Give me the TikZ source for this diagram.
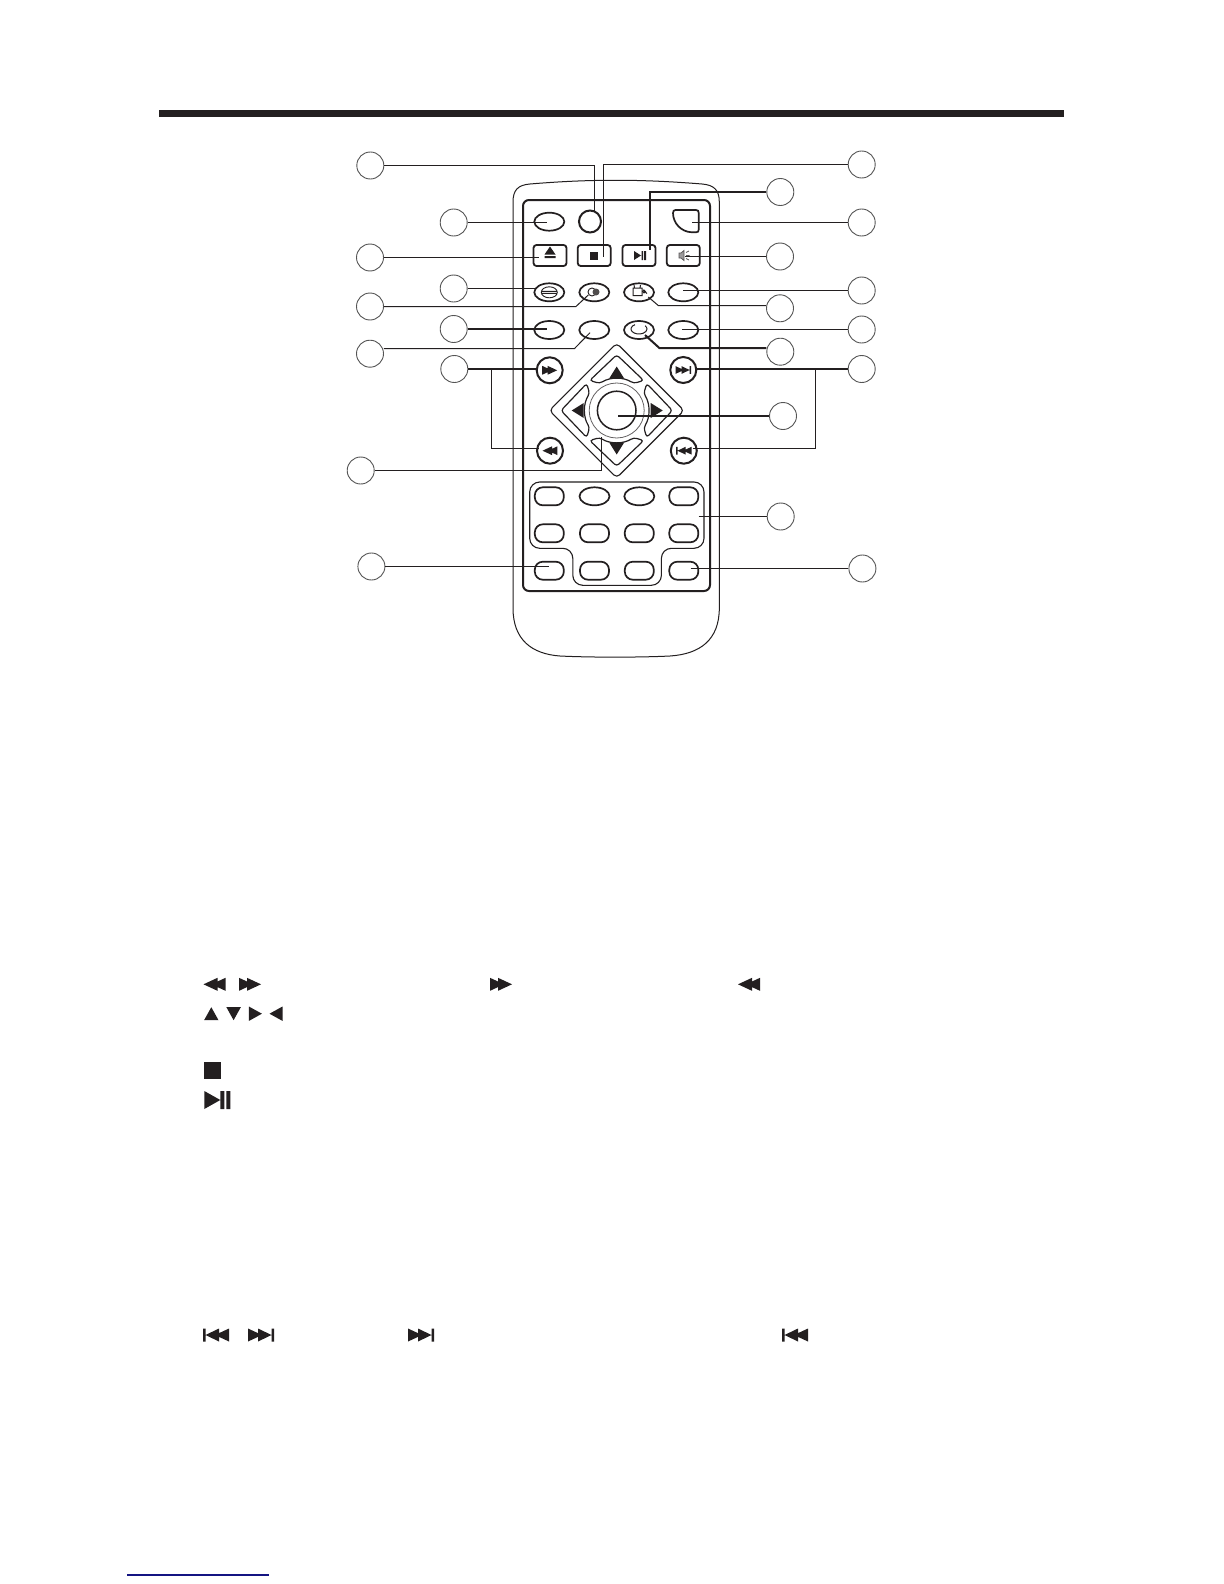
\documentclass[tikz,border=0pt]{standalone}
\usetikzlibrary{shapes.geometric,calc}
\definecolor{ink}{RGB}{35,31,32}
\definecolor{ringgray}{RGB}{85,85,85}
\definecolor{rulenavy}{RGB}{20,20,130}
\tikzset{
  x=0.5pt,y=-0.5pt,
  callout/.style={circle,draw=ringgray,fill=white,line width=0.45pt,minimum size=13.5pt,inner sep=0pt},
  conn/.style={draw=ink,line width=0.5pt},
  connthick/.style={draw=ink,line width=1pt},
  bodyline/.style={draw=ink,line width=0.5pt},
  panelline/.style={draw=ink,line width=1pt},
  padline/.style={draw=ink,line width=0.6pt,rounded corners=1.5pt},
  oval/.style={ellipse,draw=ink,fill=white,line width=0.85pt,minimum width=15pt,minimum height=9pt,inner sep=0pt},
  pill/.style={rectangle,rounded corners=4pt,draw=ink,fill=white,line width=0.85pt,minimum width=14.5pt,minimum height=9pt,inner sep=0pt},
  keybtn/.style={rectangle,rounded corners=1.5pt,draw=ink,fill=white,line width=0.9pt,minimum width=16.5pt,minimum height=10.5pt,inner sep=0pt},
  roundbtn/.style={circle,draw=ink,fill=white,line width=1pt,minimum size=13pt,inner sep=0pt},
  iconff/.pic={\fill[ink] (-11,-6.5)--(3,0)--(-11,6.5)--cycle (-3,-6.5)--(11,0)--(-3,6.5)--cycle;},
  iconnx/.pic={\fill[ink] (-13,-6.5)--(1,0)--(-13,6.5)--cycle (-3,-6.5)--(10.5,0)--(-3,6.5)--cycle (10.5,-6.5) rectangle (13,6.5);},
  icontri/.pic={\fill[ink] (-7.2,6.5)--(0,-6.5)--(7.2,6.5)--cycle;},
  iconpp/.pic={\fill[ink] (-13,-9)--(3,0)--(-13,9)--cycle (3,-9) rectangle (7,9) (9,-9) rectangle (13,9);},
  dpadkey/.pic={\draw[padline,fill=white] (0,-55.7)--(27,-30)--(17,-27.1) arc[start angle=-58,end angle=-122,radius=32]--(-27,-30)--cycle;},
}
\begin{document}
\begin{tikzpicture}
\useasboundingbox (0,0) rectangle (1224,1584);
\fill[white] (0,0) rectangle (1224,1584);
% header bar and footer rule
\fill[ink] (158.5,110) rectangle (1064,117);
\fill[rulenavy] (127,1574.3) rectangle (268.7,1575.8);
% remote body
\draw[bodyline] (513,202) .. controls (513,190) and (518,185) .. (530,184)
  .. controls (590,179) and (640,179) .. (702,184)
  .. controls (714,185) and (719.3,190) .. (719.3,202)
  -- (719.3,608) .. controls (719.3,640) and (700,654) .. (670,656)
  .. controls (640,657.5) and (590,657.5) .. (560,656)
  .. controls (532,654) and (513,640) .. (513,608) -- cycle;
\draw[panelline,rounded corners=3pt] (523,200) rectangle (710,591);
% keypad group outline
\draw[draw=ink,line width=0.55pt,rounded corners=5pt] (529.7,482) -- (704,482) -- (704,548.3) -- (661.4,548.3) -- (661.4,585.3) -- (572.8,585.3) -- (572.8,548.3) -- (529.7,548.3) -- cycle;
% top buttons
\node[oval] (bPower) at (549.3,221.7) {};
\node[roundbtn,minimum size=11pt] (bRound) at (590,221.5) {};
\draw[draw=ink,line width=0.85pt] (675.5,210) -- (696,210) .. controls (698,210) and (698.7,211) .. (698.7,213)
  -- (698.7,229.5) .. controls (698.7,231.5) and (698,232.3) .. (696,232.3) -- (692,232.3)
  .. controls (681,232) and (673,223) .. (673,213) .. controls (673,211) and (674,210) .. (675.5,210) -- cycle;
\node[keybtn] (bEject) at (550,255.5) {};
\node[keybtn] (bStop) at (594.2,255.5) {};
\node[keybtn] (bPlay) at (639,255.5) {};
\node[keybtn] (bMute) at (683.3,255.5) {};
\node[oval] (k31) at (549.3,292.3) {};
\node[oval] (k32) at (594.3,292.3) {};
\node[oval] (k33) at (639,292.3) {};
\node[oval] (k34) at (683.3,292.3) {};
\node[oval] (k41) at (549.3,330) {};
\node[oval] (k42) at (594.3,330) {};
\node[oval] (k43) at (639,330) {};
\node[oval] (k44) at (683.3,330) {};
% key glyphs
\fill[ink] (544.5,254.5) -- (550,246.5) -- (555.5,254.5) -- cycle (544.5,256.2) rectangle (555.5,258.2);
\fill[ink] (590,251.5) rectangle (598,259.5);
\fill[ink] (634,251) -- (641,255.5) -- (634,260) -- cycle (641.5,251) rectangle (643.2,260) (644.2,251) rectangle (646,260);
\draw[ink!75,fill=ink!45,line width=0.4pt] (679,253) -- (681,253) -- (684,250.5) -- (684,260.5) -- (681,258) -- (679,258) -- cycle;
\draw[ink!75,line width=0.4pt] (686,252.5) -- (689,251) (686,255.5) -- (689.5,255.5) (686,258.5) -- (689,260);
\draw[ink,line width=0.45pt] (549.3,292.3) ellipse[x radius=8,y radius=5.5] (541.8,291.3) -- (556.8,291.3) (541.8,293.3) -- (556.8,293.3);
\draw[ink,line width=0.45pt] (592,292) circle[radius=4];
\fill[ink!80] (596,292) circle[radius=3.5];
\draw[ink,line width=0.5pt] (633,288) rectangle (642,295.5) (634.5,288) -- (634,285) (640,288) -- (640.5,285);
\draw[ink,line width=0.5pt] (643,290) -- (647,293.5) (644,291.5) circle[radius=1.5];
\draw[ink,line width=0.5pt] (639,329) ++(-120:8 and 5) arc[start angle=-120,end angle=-400,x radius=8,y radius=5];
% transport keys
\node[roundbtn] (bFF) at (549.7,370.3) {};
\node[roundbtn] (bNext) at (683.3,370) {};
\node[roundbtn] (bRew) at (550,450.7) {};
\node[roundbtn] (bPrev) at (683.8,450.7) {};
\pic[scale=.68] at (bFF) {iconff};
\pic[scale=.68,xscale=-1] at (bRew) {iconff};
\pic[scale=.6] at (bNext) {iconnx};
\pic[scale=.6,xscale=-1] at (bPrev) {iconnx};
% direction pad
\begin{scope}[shift={(616.7,410.5)}]
  \draw[draw=ink,line width=0.55pt,rounded corners=2pt] (0,-67.3) -- (67.3,0) -- (0,67.3) -- (-67.3,0) -- cycle;
  \pic {dpadkey};
  \pic[rotate=90] {dpadkey};
  \pic[rotate=180] {dpadkey};
  \pic[rotate=270] {dpadkey};
  \draw[ink!70,line width=0.4pt] (0,0) circle[radius=27.5];
  \node[circle,draw=ink,fill=white,line width=0.75pt,minimum size=19.3pt,inner sep=0pt] (bOK) at (0,0) {};
  \fill[ink] (-7.5,-32) -- (0,-44) -- (7.5,-32) -- cycle;
  \fill[ink] (-7.5,32) -- (0,44) -- (7.5,32) -- cycle;
  \fill[ink] (-33,-7.5) -- (-45,0) -- (-33,7.5) -- cycle;
  \fill[ink] (34,-7.5) -- (46,0) -- (34,7.5) -- cycle;
\end{scope}
% number keys
\node[pill] (n11) at (549.3,496.3) {};
\node[oval] (n12) at (594.5,496.3) {};
\node[oval] (n13) at (639.3,496.3) {};
\node[pill] (n14) at (683.8,496.3) {};
\node[pill] (n21) at (549.3,533.3) {};
\node[pill] (n22) at (594.5,533.3) {};
\node[pill] (n23) at (639.3,533.3) {};
\node[pill] (n24) at (683.8,533.3) {};
\node[pill] (n31) at (549.3,570.7) {};
\node[pill] (n32) at (594.5,570.7) {};
\node[pill] (n33) at (639.3,570.7) {};
\node[pill] (n34) at (683.8,570.7) {};
% callouts
\node[callout] (c1) at (370.3,165.5) {};
\node[callout] (c2) at (453.7,222.5) {};
\node[callout] (c3) at (370,257.5) {};
\node[callout] (c4) at (453.7,288.5) {};
\node[callout] (c5) at (370,306.5) {};
\node[callout] (c6) at (453.7,329) {};
\node[callout] (c7) at (370,353.7) {};
\node[callout] (c8) at (454.3,369) {};
\node[callout] (c9) at (360.7,470.5) {};
\node[callout] (c10) at (371.4,566.5) {};
\node[callout] (r1) at (861.7,164.5) {};
\node[callout] (r2) at (780.3,192) {};
\node[callout] (r3) at (861.7,222.5) {};
\node[callout] (r4) at (780,256.5) {};
\node[callout] (r5) at (861.7,290.5) {};
\node[callout] (r6) at (780,308.3) {};
\node[callout] (r7) at (861.7,329.5) {};
\node[callout] (r8) at (780.3,351.7) {};
\node[callout] (r9) at (861.7,369) {};
\node[callout] (r10) at (783,416) {};
\node[callout] (r11) at (780.7,516.5) {};
\node[callout] (r12) at (862.4,568.5) {};
% connector end points
\coordinate (e1) at (594.5,211);
\coordinate (e2) at (603.5,257);
\coordinate (e3) at (650,250);
\coordinate (e4) at (692.3,222.5);
\coordinate (e5) at (685,256.5);
\coordinate (e6) at (683.3,290.5);
\coordinate (e7) at (681.7,329.5);
\coordinate (e8) at (648.3,297);
\coordinate (e9) at (645,335);
\coordinate (e10) at (546.7,222.5);
\coordinate (e11) at (539,257.5);
\coordinate (e12) at (588.3,295);
\coordinate (e13) at (546.7,329);
\coordinate (e14) at (590,332.7);
\coordinate (e15) at (618.3,416);
\coordinate (e16) at (601.5,436.7);
\coordinate (e17) at (698.6,516.5);
\coordinate (e18) at (690.7,568.5);
\coordinate (e19) at (549,566.5);
\coordinate (e20) at (535,288.5);
\coordinate (j1) at (491.5,369);
\coordinate (j2) at (815.5,369);
\coordinate (t1) at (491.5,448.5);
\coordinate (t2) at (815.5,448.5);
% connectors
\draw[conn] (c1.east) -| (e1);
\draw[conn] (r1.west) -| (e2);
\draw[connthick] (r2.west) -| (e3);
\draw[conn] (r3.west) -- (e4);
\draw[conn] (r4.west) -- (e5);
\draw[conn] (r5.west) -- (e6);
\draw[conn] (r6.west) ++(0,-2.8) -- ++(-107.8,0) -- (e8);
\draw[conn] (r7.west) -- (e7);
\draw[connthick] (r8.west) ++(0,-3.7) -- ++(-107,0) -- (e9);
\draw[connthick] (r9.west) -- ($(bNext.east)+(-1,-1)$);
\draw[conn] (j2) -- (t2) -- ($(bPrev.east)+(-5,-2.2)$);
\draw[conn] (c2.east) -- (e10);
\draw[conn] (c3.east) -- (e11);
\draw[conn] (c4.east) -- (e20);
\draw[conn] (c5.east) -- ++(192,0) -- (e12);
\draw[connthick] (c6.east) -- (e13);
\draw[conn] (c7.east) ++(0,-5.2) -- ++(190.6,0) -- (e14);
\draw[connthick] (c8.east) -- ($(bFF.west)+(0,-1.3)$);
\draw[conn] (j1) -- (t1) -- ($(bRew.west)+(3,-2.2)$);
\draw[connthick] (e15) -- (r10.west);
\draw[conn] (c9.east) -| (e16);
\draw[conn] (c10.east) -- (e19);
\draw[conn] (e17) -- (r11.west);
\draw[conn] (e18) -- (r12.west);
% legend glyphs
\pic[xscale=-1] at (214.5,984.3) {iconff};
\pic at (250,984.3) {iconff};
\pic at (501,984.3) {iconff};
\pic[xscale=-1] at (749,984.3) {iconff};
\pic at (211.3,1013.7) {icontri};
\pic[yscale=-1] at (233.6,1013.7) {icontri};
\pic[rotate=-90] at (255.4,1013.7) {icontri};
\pic[rotate=90] at (276,1013.7) {icontri};
\fill[ink] (204.2,1062) rectangle (221,1079);
\pic at (217.3,1100) {iconpp};
\pic[xscale=-1] at (216,1335) {iconnx};
\pic at (261,1335) {iconnx};
\pic at (421,1335) {iconnx};
\pic[xscale=-1] at (795,1335) {iconnx};
\end{tikzpicture}
\end{document}
